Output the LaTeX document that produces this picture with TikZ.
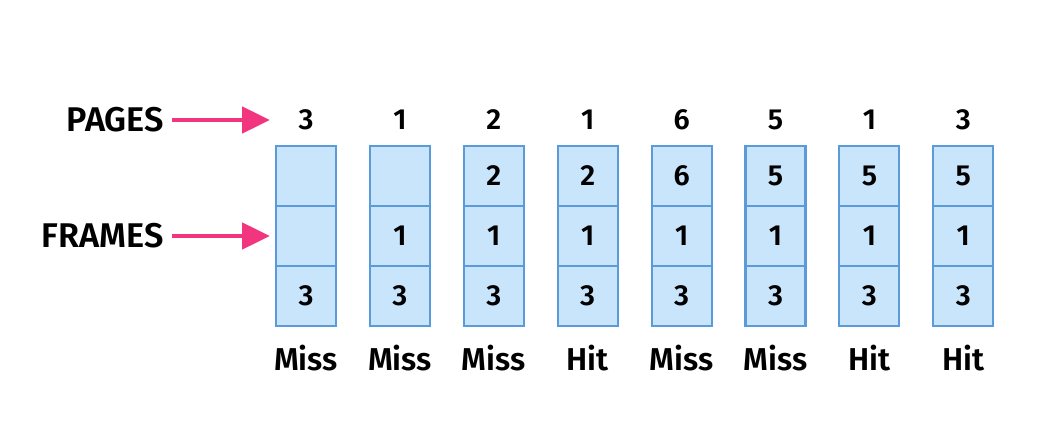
\documentclass[tikz,border=0pt]{standalone}
\usepackage{fontspec}
\setmainfont{Fira Sans}[BoldFont={Fira Sans SemiBold}]
\usetikzlibrary{arrows.meta,positioning}
\definecolor{cellfill}{HTML}{C9E5FB}
\definecolor{celledge}{HTML}{5B9BDA}
\definecolor{arrowpink}{HTML}{F2357F}
\tikzset{
	cell/.style={draw=celledge, fill=cellfill, line width=1.2pt, minimum width=1.2cm, minimum height=1.2cm, inner sep=0pt, font=\bfseries\fontsize{16.5}{19}\selectfont},
	pagenum/.style={font=\bfseries\fontsize{16.5}{19}\selectfont},
	result/.style={font=\bfseries\fontsize{18}{21}\selectfont},
	label/.style={font=\bfseries\fontsize{19.5}{22}\selectfont, anchor=east},
	pointer/.style={arrowpink, line width=2.8pt, -{Triangle[length=0.56cm, width=0.52cm]}}
}
\begin{document}
\begin{tikzpicture}[x=0.02cm, y=-0.02cm]
	\useasboundingbox (0,0) rectangle (1047,442);
	% columns: page, top, middle, bottom, result
	\foreach \i/\p/\a/\b/\c/\r in {1/3/{}/{}/3/Miss, 2/1/{}/1/3/Miss, 3/2/2/1/3/Miss, 4/1/2/1/3/Hit,
		5/6/6/1/3/Miss, 6/5/5/1/3/Miss, 7/1/5/1/3/Hit, 8/3/5/1/3/Hit}{
		\node[pagenum] (p\i) at ({306+93.9*(\i-1)},120) {\p};
		\node[cell] (a\i) at ({306+93.9*(\i-1)},176) {\a};
		\node[cell] (b\i) at ({306+93.9*(\i-1)},236) {\b};
		\node[cell] (c\i) at ({306+93.9*(\i-1)},296) {\c};
		\node[result] (r\i) at ({306+93.9*(\i-1)},358) {\r};
	}
	\node[label] (pages) at (170,120) {PAGES};
	\node[label] (frames) at (170,236) {FRAMES};
	\coordinate (pagestip) at (270,120);
	\coordinate (framestip) at (270,236);
	\draw[pointer] ([xshift=1pt]pages.east) -- (pagestip);
	\draw[pointer] ([xshift=1pt]frames.east) -- (framestip);
\end{tikzpicture}
\end{document}
